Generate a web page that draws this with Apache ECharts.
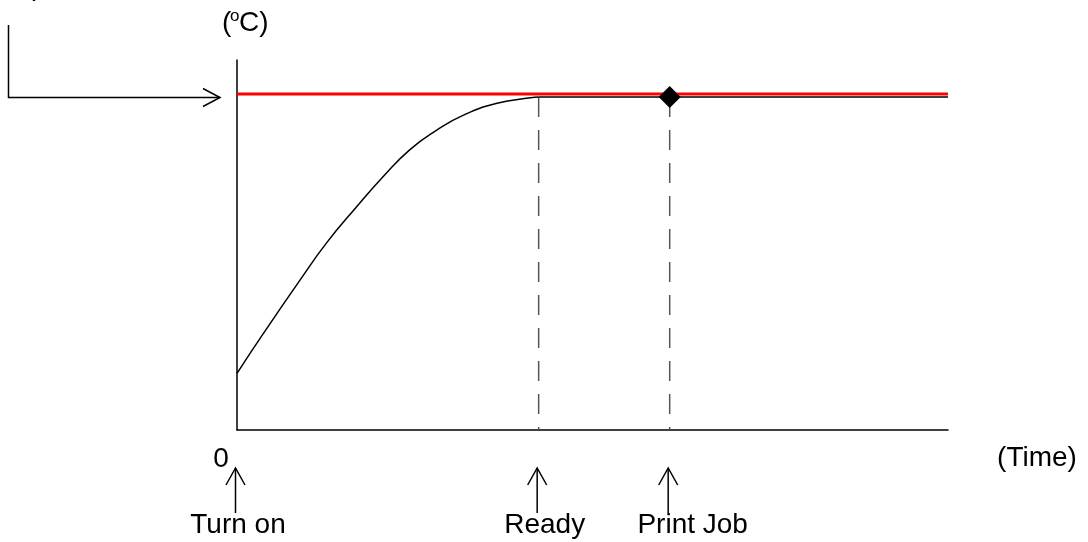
<!DOCTYPE html>
<html>
<head>
<meta charset="utf-8">
<script src="https://cdn.jsdelivr.net/npm/echarts@6/dist/echarts.min.js"></script>
<style>
  html, body { margin: 0; padding: 0; background: #fff; }
  #chart { width: 1088px; height: 542px; }
</style>
</head>
<body>
<div id="chart"></div>
<script>
// Fuser warm-up profile: temperature against time from power-on.
const timeMax = 70;
const tempMax = 100;
const heatTime = [0, 2.6, 6.2, 8.8, 11.8, 14.4, 17.0, 19.7, 22.3, 25.6, 28.9, 29.7];
const heatTemp = [15.3, 26.1, 40.5, 50.5, 60.4, 68.5, 75.7, 81.1, 85.1, 88.3, 89.8, 90.0];
const holdTime = [29.7, 70];
const holdTemp = [90.0, 90.0];
const setTemp = 90.8;
const events = ['Turn on', 'Ready', 'Print Job'];
const eventTimes = [0, 29.7, 42.6];
const readyTemp = 90.0;
const originLabel = '0';
const timeLabel = '(Time)';

const FONT = '"Liberation Sans", Arial, sans-serif';
const labelShift = [1, 6, 23];

const chart = echarts.init(document.getElementById('chart'), null, { renderer: 'canvas' });

const axisStyle = {
  axisLine: { show: true, onZero: false, lineStyle: { color: '#000', width: 1.5 } },
  axisTick: { show: false },
  axisLabel: { show: false },
  splitLine: { show: false }
};

const blackLine = { color: '#000', width: 1.5 };

chart.setOption({
  animation: false,
  backgroundColor: '#fff',
  grid: { left: 237, right: 140, top: 60, bottom: 112 },
  xAxis: Object.assign({ type: 'value', min: 0, max: timeMax }, axisStyle),
  yAxis: Object.assign({ type: 'value', min: 0, max: tempMax }, axisStyle),
  series: [
    {
      name: 'set',
      type: 'line',
      data: [[0, setTemp], [timeMax, setTemp]],
      symbol: 'none',
      lineStyle: { color: '#ff0000', width: 3 },
      z: 3
    },
    {
      name: 'warm-up',
      type: 'line',
      data: heatTime.map((t, i) => [t, heatTemp[i]]),
      symbol: 'none',
      smooth: 0.5,
      lineStyle: blackLine,
      z: 4
    },
    {
      name: 'hold',
      type: 'line',
      data: holdTime.map((t, i) => [t, holdTemp[i]]),
      symbol: 'none',
      lineStyle: blackLine,
      z: 4
    },
    // dashed markers at Ready and Print Job
    ...eventTimes.slice(1).map(t => ({
      type: 'line',
      data: [[t, readyTemp], [t, 0]],
      symbol: 'none',
      lineStyle: { color: '#555', width: 1.5, type: [20, 13] },
      z: 2
    })),
    {
      name: 'job',
      type: 'scatter',
      data: [[eventTimes[2], readyTemp]],
      symbol: 'diamond',
      symbolSize: 22,
      itemStyle: { color: '#000', opacity: 1 },
      z: 5
    }
  ]
});

function px(t, v) { return chart.convertToPixel({ gridIndex: 0 }, [t, v]); }

const graphics = [];
const origin = px(0, 0);
const holdY = px(0, readyTemp)[1] + 0.5;
const topY = px(0, tempMax)[1];

// up-arrows and event names below the time axis
events.forEach((name, i) => {
  const x = px(eventTimes[i], 0)[0] - 1.5;
  const tipY = origin[1] + 38;
  graphics.push({
    type: 'polyline',
    shape: { points: [[x, tipY + 45], [x, tipY]] },
    style: { stroke: '#000', lineWidth: 1.5, fill: null }
  });
  graphics.push({
    type: 'polyline',
    shape: { points: [[x - 9.5, tipY + 17], [x, tipY], [x + 9.5, tipY + 17]] },
    style: { stroke: '#000', lineWidth: 1.5, fill: null }
  });
  graphics.push({
    type: 'text',
    x: x + 1.5 + labelShift[i],
    y: origin[1] + 95,
    style: { text: name, font: '28px ' + FONT, fill: '#000', align: 'center', verticalAlign: 'middle' }
  });
});

// origin and axis names
graphics.push({
  type: 'text', x: origin[0] - 16, y: origin[1] + 29,
  style: { text: originLabel, font: '28px ' + FONT, fill: '#000', align: 'center', verticalAlign: 'middle' }
});
graphics.push({
  type: 'text', x: 1037, y: origin[1] + 28,
  style: { text: timeLabel, font: '28px ' + FONT, fill: '#000', align: 'center', verticalAlign: 'middle' }
});
// (°C) with a raised small "o"
graphics.push({
  type: 'text', x: origin[0] - 15, y: topY - 37,
  style: { text: '(', font: '28px ' + FONT, fill: '#000', align: 'left', verticalAlign: 'middle' }
});
graphics.push({
  type: 'text', x: origin[0] - 7, y: topY - 44,
  style: { text: 'o', font: '17px ' + FONT, fill: '#000', align: 'left', verticalAlign: 'middle' }
});
graphics.push({
  type: 'text', x: origin[0] + 2, y: topY - 37,
  style: { text: 'C)', font: '28px ' + FONT, fill: '#000', align: 'left', verticalAlign: 'middle' }
});

// bent arrow pointing at the set temperature
graphics.push({
  type: 'polyline',
  shape: { points: [[8.5, 25], [8.5, holdY], [origin[0] - 17, holdY]] },
  style: { stroke: '#000', lineWidth: 1.5, fill: null }
});
graphics.push({
  type: 'polyline',
  shape: { points: [[origin[0] - 34, holdY - 9], [origin[0] - 17, holdY], [origin[0] - 34, holdY + 9]] },
  style: { stroke: '#000', lineWidth: 1.5, fill: null }
});
// tail of the caption running above the frame
graphics.push({
  type: 'text', x: 37, y: 1,
  style: { text: ')', font: '28px ' + FONT, fill: '#000', align: 'center', verticalAlign: 'bottom' }
});

chart.setOption({ graphic: graphics });
</script>
</body>
</html>
